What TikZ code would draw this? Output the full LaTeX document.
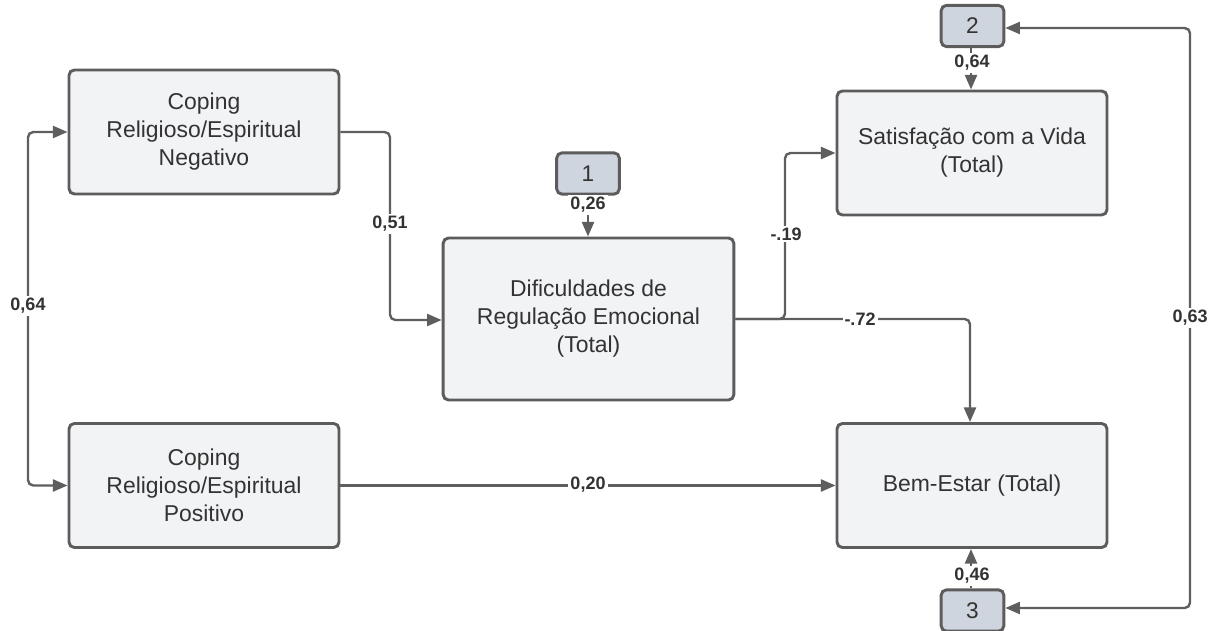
\documentclass[tikz,border=0pt]{standalone}
\usepackage{fontspec}
\setmainfont{Liberation Sans}
\usetikzlibrary{arrows.meta,calc}
\definecolor{boxfill}{HTML}{F2F3F5}
\definecolor{boxline}{HTML}{5C5C5C}
\definecolor{smallfill}{HTML}{CFD5DE}
\definecolor{edge}{HTML}{5E5E5E}
\definecolor{txt}{HTML}{333333}
\tikzset{
  bigbox/.style={draw=boxline, fill=boxfill, line width=2.2pt, rounded corners=4pt,
    minimum width=202.5pt, minimum height=93pt, align=center, text=txt,
    font=\fontsize{17.2}{21}\selectfont, inner sep=2pt},
  smallbox/.style={draw=boxline, fill=smallfill, line width=2.2pt, rounded corners=4pt,
    minimum width=47pt, minimum height=31pt, text=txt, font=\fontsize{17}{19}\selectfont, inner sep=0pt},
  conn/.style={draw=edge, line width=1.8pt, rounded corners=4pt,
    -{Triangle[length=11pt,width=9pt]}},
  bconn/.style={draw=edge, line width=1.8pt, rounded corners=4pt,
    {Triangle[length=11pt,width=9pt]}-{Triangle[length=11pt,width=9pt]}},
  lbl/.style={fill=white, text=txt, font=\bfseries\fontsize{13.5}{15}\selectfont, inner sep=1.5pt}
}
\begin{document}
\begin{tikzpicture}[x=0.75pt,y=-0.75pt]
\useasboundingbox (0,0) rectangle (1220,631);
% nodes
\node[bigbox] (neg) at (204,132) {Coping\\Religioso/Espiritual\\Negativo};
\node[bigbox] (pos) at (204,485.5) {Coping\\Religioso/Espiritual\\Positivo};
\node[bigbox, minimum width=218pt, minimum height=121.5pt] (dre) at (588.5,319) {Dificuldades de\\Regulação Emocional\\(Total)};
\node[bigbox] (sat) at (972,153) {Satisfação com a Vida\\(Total)};
\node[bigbox] (bem) at (972,485.5) {Bem-Estar (Total)};
\node[smallbox] (e1) at (588,173.5) {1};
\node[smallbox] (e2) at (972.5,26) {2};
\node[smallbox] (e3) at (972.5,610.5) {3};
% connectors
\draw[conn] (neg.east) -- (390,132) -- (390,320) -- (dre.west |- 0,320);
\node[lbl] at (390,224) {0,51};
\draw[conn] (dre.east |- 0,319) -- (785,319) -- (785,153) -- (sat.west);
\node[lbl] at (786,234) {-.19};
\draw[conn] (dre.east |- 0,319) -- (970,319) -- (bem.north -| 970,0);
\node[lbl] at (860,319) {-.72};
\draw[conn] (pos.east) -- (bem.west);
\node[lbl] at (588,485) {0,20};
\draw[conn] (e1.south) -- (dre.north -| e1.south);
\node[lbl] at (588,205) {0,26};
\draw[conn] (e2.south -| 971,0) -- (sat.north -| 971,0);
\node[lbl] at (972,63) {0,64};
\draw[conn] (e3.north -| 971,0) -- (bem.south -| 971,0);
\node[lbl] at (972,576) {0,46};
\draw[bconn] (neg.west) -- (28,132) -- (28,485.5) -- (pos.west);
\node[lbl] at (28,306) {0,64};
\draw[bconn] (e2.east |- 0,28) -- (1190,28) -- (1190,608) -- (e3.east |- 0,608);
\node[lbl] at (1190,318) {0,63};
\end{tikzpicture}
\end{document}
